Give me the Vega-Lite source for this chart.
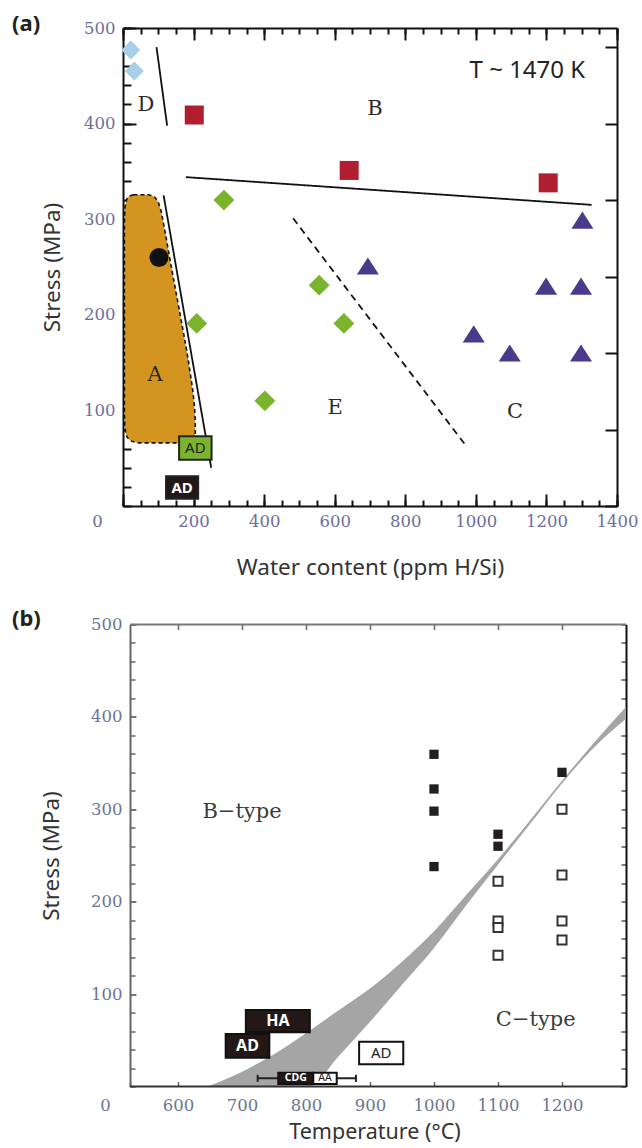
{
  "$schema": "https://vega.github.io/schema/vega-lite/v6.json",
  "background": "white",
  "padding": {"left": 12, "top": 12, "right": 4, "bottom": 0},
  "spacing": 28.5,
  "config": {
    "view": {"stroke": null},
    "axis": {
      "grid": false,
      "labelFont": "DejaVu Serif",
      "labelFontSize": 16.5,
      "labelFlush": false,
      "labelOverlap": false,
      "format": "d",
      "titleFont": "Noto Sans",
      "titleFontSize": 22.5,
      "titleFontWeight": "normal",
      "titleColor": "#333333"
    },
    "title": {"font": "Noto Sans", "fontSize": 22, "fontWeight": "bold", "color": "#222222", "anchor": "start", "frame": "group", "baseline": "middle"}
  },
  "datasets": {
    "regionA": [
      {"s": 66, "xl": 45, "xr": 184},
      {"s": 67.5, "xl": 28, "xr": 196},
      {"s": 71, "xl": 14, "xr": 202},
      {"s": 78, "xl": 7, "xr": 205},
      {"s": 95, "xl": 4, "xr": 204},
      {"s": 150, "xl": 4, "xr": 186},
      {"s": 200, "xl": 4, "xr": 162},
      {"s": 260, "xl": 4, "xr": 132},
      {"s": 295, "xl": 4, "xr": 115},
      {"s": 312, "xl": 6, "xr": 105},
      {"s": 320, "xl": 10, "xr": 96},
      {"s": 324, "xl": 18, "xr": 86},
      {"s": 325.5, "xl": 30, "xr": 72}
    ],
    "boundsA": [
      {"seg": "D-A", "w0": 95, "s0": 480, "w1": 125, "s1": 398},
      {"seg": "B", "w0": 178, "s0": 344, "w1": 1328, "s1": 315},
      {"seg": "A-E", "w0": 115, "s0": 325, "w1": 250, "s1": 40},
      {"seg": "E-C", "w0": 482, "s0": 301, "w1": 972, "s1": 63}
    ],
    "pointsA": [
      {"fabric": "D", "w": 22, "s": 477},
      {"fabric": "D", "w": 32, "s": 455},
      {"fabric": "B", "w": 202, "s": 409},
      {"fabric": "B", "w": 641, "s": 351},
      {"fabric": "B", "w": 1205, "s": 338},
      {"fabric": "E", "w": 286, "s": 320},
      {"fabric": "E", "w": 209, "s": 191},
      {"fabric": "E", "w": 402, "s": 110},
      {"fabric": "E", "w": 556, "s": 231},
      {"fabric": "E", "w": 626, "s": 191},
      {"fabric": "C", "w": 1302, "s": 299},
      {"fabric": "C", "w": 694, "s": 251},
      {"fabric": "C", "w": 1199, "s": 230},
      {"fabric": "C", "w": 1298, "s": 230},
      {"fabric": "C", "w": 994, "s": 180},
      {"fabric": "C", "w": 1096, "s": 160},
      {"fabric": "C", "w": 1298, "s": 160},
      {"fabric": "A", "w": 102, "s": 260}
    ],
    "boxesA": [
      {"id": "AD1", "label": "AD", "w0": 159, "w1": 251, "s0": 48.4, "s1": 72.9, "wc": 205, "sc": 60.6},
      {"id": "AD2", "label": "AD", "w0": 122, "w1": 213, "s0": 7.6, "s1": 31, "wc": 167.5, "sc": 19.3}
    ],
    "lettersA": [
      {"t": "A", "w": 91, "s": 137},
      {"t": "B", "w": 714, "s": 415},
      {"t": "C", "w": 1111, "s": 98},
      {"t": "D", "w": 65, "s": 419},
      {"t": "E", "w": 601, "s": 102}
    ],
    "noteA": [{"t": "T ~ 1470 K", "w": 1146, "s": 455}],
    "band": [
      {"t": 647, "lo": 0, "hi": 0},
      {"t": 700, "lo": 0, "hi": 16},
      {"t": 750, "lo": 0, "hi": 35},
      {"t": 805, "lo": 0, "hi": 60},
      {"t": 850, "lo": 32, "hi": 82},
      {"t": 900, "lo": 70, "hi": 106},
      {"t": 950, "lo": 110, "hi": 135},
      {"t": 1000, "lo": 150, "hi": 168},
      {"t": 1050, "lo": 196, "hi": 207},
      {"t": 1100, "lo": 240, "hi": 246},
      {"t": 1150, "lo": 284, "hi": 288},
      {"t": 1200, "lo": 328, "hi": 331},
      {"t": 1250, "lo": 367, "hi": 372},
      {"t": 1300, "lo": 398, "hi": 411}
    ],
    "frameB": [
      {"edge": "top", "t0": 525, "t1": 1300, "s": 500},
      {"edge": "bottom", "t0": 525, "t1": 1300, "s": 0}
    ],
    "squaresB": [
      {"type": "B", "t": 1000, "s": 359.5},
      {"type": "B", "t": 1000, "s": 322},
      {"type": "B", "t": 1000, "s": 298},
      {"type": "B", "t": 1000, "s": 238},
      {"type": "B", "t": 1100, "s": 273},
      {"type": "B", "t": 1100, "s": 260},
      {"type": "B", "t": 1200, "s": 340},
      {"type": "C", "t": 1100, "s": 222},
      {"type": "C", "t": 1100, "s": 179},
      {"type": "C", "t": 1100, "s": 172},
      {"type": "C", "t": 1100, "s": 142},
      {"type": "C", "t": 1200, "s": 300},
      {"type": "C", "t": 1200, "s": 229},
      {"type": "C", "t": 1200, "s": 179},
      {"type": "C", "t": 1200, "s": 158.5}
    ],
    "errB": [
      {"t0": 724.5, "t1": 878, "s0": 8.9, "s1": 8.9},
      {"t0": 724.5, "t1": 724.5, "s0": 5, "s1": 12.7},
      {"t0": 878, "t1": 878, "s0": 5, "s1": 12.7}
    ],
    "boxesB": [
      {"label": "HA", "kind": "filled", "t0": 706, "t1": 806, "s0": 58.7, "s1": 82.8, "tc": 756, "sc": 70.7},
      {"label": "AD", "kind": "filled", "t0": 674.5, "t1": 742.7, "s0": 31.2, "s1": 56.8, "tc": 708.6, "sc": 44},
      {"label": "AD", "kind": "open", "t0": 883, "t1": 952, "s0": 24, "s1": 48.5, "tc": 917.5, "sc": 36.2},
      {"label": "CDG", "kind": "filled", "t0": 756.7, "t1": 811.4, "s0": 2.7, "s1": 15, "tc": 784, "sc": 8.9},
      {"label": "AA", "kind": "open", "t0": 811.4, "t1": 848, "s0": 2.7, "s1": 15, "tc": 829.7, "sc": 8.9}
    ],
    "typesB": [
      {"t": "B−type", "x": 700, "s": 297},
      {"t": "C−type", "x": 1159, "s": 72}
    ]
  },
  "vconcat": [
    {
      "title": {"text": "(a)", "dx": -111, "offset": 6, "dy": 21.5},
      "width": 494,
      "height": 478,
      "resolve": {"axis": {"x": "independent", "y": "independent"}},
      "layer": [
        {
          "data": {"name": "regionA"},
          "mark": {"type": "area", "orient": "horizontal", "interpolate": "monotone", "fill": "#d3951f", "stroke": "#111111", "strokeWidth": 1.6, "strokeDash": [4, 3]},
          "encoding": {
            "y": {
              "field": "s", "type": "quantitative",
              "scale": {"domain": [0, 500], "nice": false, "zero": false},
              "axis": {"orient": "left", "values": [100, 200, 300, 400, 500], "tickSize": -13, "tickWidth": 2, "tickColor": "#111111", "domainColor": "#111111", "domainWidth": 2, "labelPadding": 21, "labelColor": "#6d6d9c", "title": "Stress (MPa)", "titlePadding": 19}
            },
            "x": {
              "field": "xl", "type": "quantitative",
              "scale": {"domain": [0, 1400], "nice": false, "zero": false},
              "axis": {"orient": "bottom", "values": [0, 200, 400, 600, 800, 1000, 1200, 1400], "tickSize": -12, "tickWidth": 2, "tickColor": "#111111", "domainColor": "#111111", "domainWidth": 2, "labelPadding": 19, "labelColor": "#6d6d9c", "labelOffset": {"condition": {"test": "datum.value === 0", "value": -26}, "value": 0}, "title": "Water content (ppm H/Si)", "titlePadding": 27}
            },
            "x2": {"field": "xr"}
          }
        },
        {
          "data": {"name": "boundsA"},
          "mark": {"type": "rule", "color": "#111111", "strokeWidth": 1.8},
          "encoding": {
            "x": {"field": "w0", "type": "quantitative", "axis": {"orient": "bottom", "values": [0, 50, 100, 150, 200, 250, 300, 350, 400, 450, 500, 550, 600, 650, 700, 750, 800, 850, 900, 950, 1000, 1050, 1100, 1150, 1200, 1250, 1300, 1350, 1400], "tickSize": -6, "tickWidth": 2, "tickColor": "#111111", "labels": false, "domain": false, "title": null}},
            "x2": {"field": "w1"},
            "y": {"field": "s0", "type": "quantitative", "axis": {"orient": "left", "values": [0, 20, 40, 60, 80, 100, 120, 140, 160, 180, 200, 220, 240, 260, 280, 300, 320, 340, 360, 380, 400, 420, 440, 460, 480, 500], "tickSize": -8, "tickWidth": 2, "tickColor": "#111111", "labels": false, "domain": false, "title": null}},
            "y2": {"field": "s1"},
            "strokeDash": {"condition": {"test": "datum.seg === 'E-C'", "value": [7, 5]}, "value": [1, 0]}
          }
        },
        {
          "data": {"name": "pointsA"},
          "mark": {"type": "point", "filled": true, "size": 361, "opacity": 1},
          "encoding": {
            "x": {"field": "w", "type": "quantitative", "axis": {"orient": "top", "values": [0, 200, 400, 600, 800, 1000, 1200, 1400], "tickSize": -12, "tickWidth": 2, "tickColor": "#111111", "labels": false, "domainColor": "#111111", "domainWidth": 2, "title": null}},
            "y": {"field": "s", "type": "quantitative", "axis": {"orient": "right", "values": [0, 80, 160, 240, 320, 400, 480], "tickSize": -12, "tickWidth": 2, "tickColor": "#111111", "labels": false, "domainColor": "#111111", "domainWidth": 2, "title": null}},
            "shape": {"field": "fabric", "type": "nominal", "scale": {"domain": ["A", "B", "C", "D", "E"], "range": ["circle", "square", "M0,-0.9L1.16,0.9L-1.16,0.9Z", "diamond", "M0,-1.1L1.1,0L0,1.1L-1.1,0Z"]}, "legend": null},
            "color": {"field": "fabric", "type": "nominal", "scale": {"domain": ["A", "B", "C", "D", "E"], "range": ["#111111", "#b01e2f", "#4a3a8c", "#a8cfe8", "#7cb32c"]}, "legend": null}
          }
        },
        {
          "data": {"name": "boxesA"},
          "mark": {"type": "rect", "stroke": "#222222", "strokeWidth": 2},
          "encoding": {
            "x": {"field": "w0", "type": "quantitative", "axis": {"orient": "top", "values": [0, 50, 100, 150, 200, 250, 300, 350, 400, 450, 500, 550, 600, 650, 700, 750, 800, 850, 900, 950, 1000, 1050, 1100, 1150, 1200, 1250, 1300, 1350, 1400], "tickSize": -6, "tickWidth": 2, "tickColor": "#111111", "labels": false, "domain": false, "title": null}},
            "x2": {"field": "w1"},
            "y": {"field": "s0", "type": "quantitative", "axis": null},
            "y2": {"field": "s1"},
            "fill": {"condition": {"test": "datum.id === 'AD1'", "value": "#7cb32c"}, "value": "#231815"}
          }
        },
        {
          "data": {"name": "boxesA"},
          "transform": [{"filter": "datum.id === 'AD1'"}],
          "mark": {"type": "text", "font": "Noto Sans", "fontSize": 15, "color": "#222222"},
          "encoding": {
            "x": {"field": "wc", "type": "quantitative", "axis": null},
            "y": {"field": "sc", "type": "quantitative", "axis": null},
            "text": {"field": "label"}
          }
        },
        {
          "data": {"name": "boxesA"},
          "transform": [{"filter": "datum.id === 'AD2'"}],
          "mark": {"type": "text", "font": "Noto Sans", "fontSize": 15, "fontWeight": "bold", "color": "#ffffff"},
          "encoding": {
            "x": {"field": "wc", "type": "quantitative", "axis": null},
            "y": {"field": "sc", "type": "quantitative", "axis": null},
            "text": {"field": "label"}
          }
        },
        {
          "data": {"name": "lettersA"},
          "mark": {"type": "text", "font": "DejaVu Serif", "fontSize": 21, "color": "#2a2a2a"},
          "encoding": {
            "x": {"field": "w", "type": "quantitative", "axis": null},
            "y": {"field": "s", "type": "quantitative", "axis": null},
            "text": {"field": "t"}
          }
        },
        {
          "data": {"name": "noteA"},
          "mark": {"type": "text", "font": "Noto Sans", "fontSize": 24, "color": "#222222"},
          "encoding": {
            "x": {"field": "w", "type": "quantitative", "axis": null},
            "y": {"field": "s", "type": "quantitative", "axis": null},
            "text": {"field": "t"}
          }
        }
      ]
    },
    {
      "title": {"text": "(b)", "dx": -111, "offset": 4, "dy": 18.5},
      "width": 503,
      "height": 462,
      "resolve": {"axis": {"x": "independent", "y": "independent"}},
      "layer": [
        {
          "data": {"name": "band"},
          "mark": {"type": "area", "interpolate": "monotone", "fill": "#a5a5a5"},
          "encoding": {
            "x": {
              "field": "t", "type": "quantitative",
              "scale": {"domain": [514.06, 1300], "nice": false, "zero": false},
              "axis": {"orient": "bottom", "values": [525, 600, 700, 800, 900, 1000, 1100, 1200], "labelExpr": "datum.value === 525 ? '0' : datum.label", "labelOffset": {"condition": {"test": "datum.value === 525", "value": -25}, "value": 0}, "tickSize": -5, "tickWidth": 1.5, "tickColor": "#666666", "domain": false, "labelPadding": 15.5, "labelColor": "#6b7593", "title": "Temperature (°C)", "titleFontSize": 21.5, "titlePadding": 8}
            },
            "y": {
              "field": "lo", "type": "quantitative",
              "scale": {"domain": [0, 500], "nice": false, "zero": false},
              "axis": {"orient": "left", "offset": -7, "values": [100, 200, 300, 400, 500], "tickSize": -6, "tickWidth": 1.5, "tickColor": "#666666", "domainColor": "#666666", "domainWidth": 2, "labelPadding": 14, "labelColor": "#6b7593", "title": "Stress (MPa)", "titlePadding": 27}
            },
            "y2": {"field": "hi"}
          }
        },
        {
          "data": {"name": "frameB"},
          "mark": {"type": "rule", "strokeWidth": 2},
          "encoding": {
            "x": {"field": "t0", "type": "quantitative", "axis": {"orient": "top", "values": [600, 700, 800, 900, 1000, 1100, 1200], "tickSize": -5, "tickWidth": 1.5, "tickColor": "#666666", "labels": false, "domain": false, "title": null}},
            "x2": {"field": "t1"},
            "y": {"field": "s", "type": "quantitative", "axis": {"orient": "left", "offset": -7, "values": [0, 20, 40, 60, 80, 100, 120, 140, 160, 180, 200, 220, 240, 260, 280, 300, 320, 340, 360, 380, 400, 420, 440, 460, 480, 500], "tickSize": -5, "tickWidth": 1.5, "tickColor": "#666666", "labels": false, "domain": false, "title": null}},
            "color": {"condition": {"test": "datum.edge === 'top'", "value": "#777777"}, "value": "#333333"}
          }
        },
        {
          "data": {"name": "squaresB"},
          "transform": [{"filter": "datum.type === 'B'"}],
          "mark": {"type": "square", "size": 86, "filled": true, "color": "#231f20", "opacity": 1},
          "encoding": {
            "x": {"field": "t", "type": "quantitative", "axis": null},
            "y": {"field": "s", "type": "quantitative", "axis": {"orient": "right", "values": [0, 20, 40, 60, 80, 100, 120, 140, 160, 180, 200, 220, 240, 260, 280, 300, 320, 340, 360, 380, 400, 420, 440, 460, 480, 500], "tickSize": -5, "tickWidth": 1.5, "tickColor": "#555555", "labels": false, "domainColor": "#111111", "domainWidth": 2, "title": null}}
          }
        },
        {
          "data": {"name": "squaresB"},
          "transform": [{"filter": "datum.type === 'C'"}],
          "mark": {"type": "point", "shape": "square", "size": 81, "fill": "#ffffff", "stroke": "#333333", "strokeWidth": 2, "opacity": 1},
          "encoding": {
            "x": {"field": "t", "type": "quantitative", "axis": null},
            "y": {"field": "s", "type": "quantitative", "axis": null}
          }
        },
        {
          "data": {"name": "errB"},
          "mark": {"type": "rule", "color": "#222222", "strokeWidth": 2},
          "encoding": {
            "x": {"field": "t0", "type": "quantitative", "axis": null},
            "x2": {"field": "t1"},
            "y": {"field": "s0", "type": "quantitative", "axis": null},
            "y2": {"field": "s1"}
          }
        },
        {
          "data": {"name": "boxesB"},
          "mark": {"type": "rect", "stroke": "#111111", "strokeWidth": 2},
          "encoding": {
            "x": {"field": "t0", "type": "quantitative", "axis": null},
            "x2": {"field": "t1"},
            "y": {"field": "s0", "type": "quantitative", "axis": null},
            "y2": {"field": "s1"},
            "fill": {"condition": {"test": "datum.kind === 'filled'", "value": "#231815"}, "value": "#ffffff"}
          }
        },
        {
          "data": {"name": "boxesB"},
          "transform": [{"filter": "datum.kind === 'filled'"}],
          "mark": {"type": "text", "font": "Noto Sans", "fontWeight": "bold", "color": "#ffffff"},
          "encoding": {
            "x": {"field": "tc", "type": "quantitative", "axis": null},
            "y": {"field": "sc", "type": "quantitative", "axis": null},
            "text": {"field": "label"},
            "size": {"condition": {"test": "datum.label === 'CDG'", "value": 10.5}, "value": 16}
          }
        },
        {
          "data": {"name": "boxesB"},
          "transform": [{"filter": "datum.kind === 'open'"}],
          "mark": {"type": "text", "font": "Noto Sans", "color": "#222222"},
          "encoding": {
            "x": {"field": "tc", "type": "quantitative", "axis": null},
            "y": {"field": "sc", "type": "quantitative", "axis": null},
            "text": {"field": "label"},
            "size": {"condition": {"test": "datum.label === 'AA'", "value": 10.5}, "value": 15}
          }
        },
        {
          "data": {"name": "typesB"},
          "mark": {"type": "text", "font": "DejaVu Serif", "fontSize": 21, "color": "#3a3a3a"},
          "encoding": {
            "x": {"field": "x", "type": "quantitative", "axis": null},
            "y": {"field": "s", "type": "quantitative", "axis": null},
            "text": {"field": "t"}
          }
        }
      ]
    }
  ]
}
